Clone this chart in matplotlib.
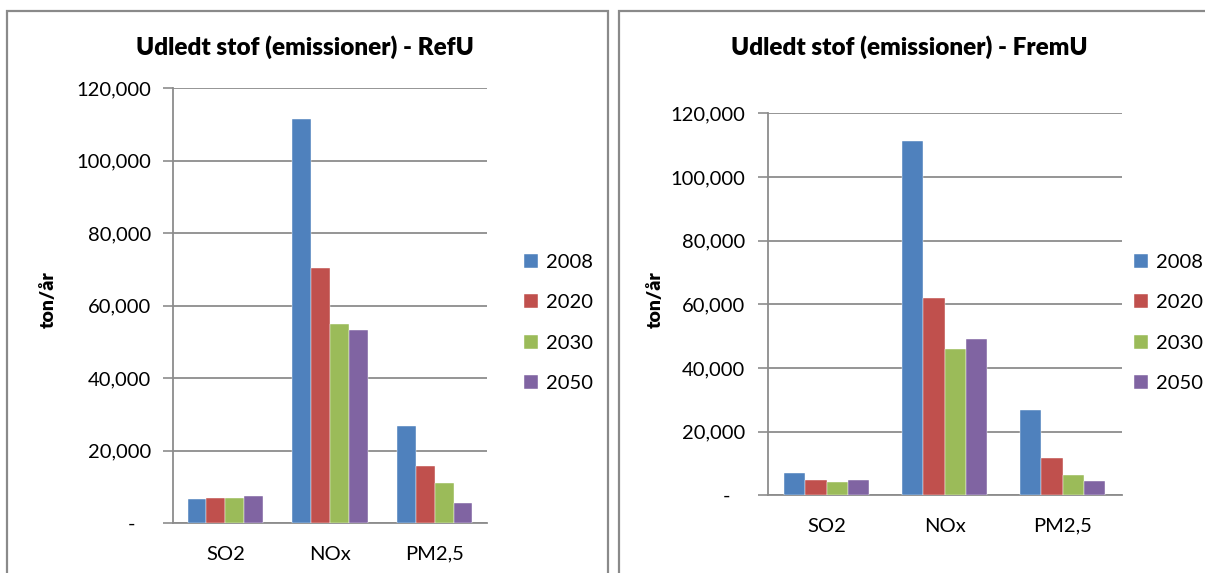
import numpy as np
import matplotlib.pyplot as plt
from matplotlib.patches import Rectangle

categories = ["SO2", "NOx", "PM2,5"]
years = ["2008", "2020", "2030", "2050"]
colors = ["#4F81BD", "#C0504D", "#9BBB59", "#8064A2"]

# ton/år
refu = {
    "2008": [6600, 111400, 26800],
    "2020": [7100, 70300, 15800],
    "2030": [7100, 55000, 11100],
    "2050": [7500, 53200, 5600],
}
fremu = {
    "2008": [6900, 111300, 26900],
    "2020": [4800, 62000, 11700],
    "2030": [4300, 45900, 6400],
    "2050": [4800, 49000, 4400],
}

plt.rcParams["font.family"] = ["Lato", "DejaVu Sans"]
grid_c = "#8C8C8C"

fig = plt.figure(figsize=(12.05, 5.73), dpi=100)

# panel frames (pixel coords -> figure fraction)
W, H = 1205, 573
for x0, x1 in [(7, 608), (619, 1215)]:
    fig.patches.append(Rectangle((x0 / W, -0.05), (x1 - x0) / W, (H - 11) / H + 0.05,
                                 transform=fig.transFigure, fill=False,
                                 edgecolor="#8A8A8A", linewidth=1.6))


def fmt(v):
    return "-   " if v == 0 else f"{int(v):,}"


def draw(rect, data, title, title_x, ylab_x, leg_x):
    ax = fig.add_axes(rect)
    x = np.arange(len(categories))
    w = 0.18
    for i, yr in enumerate(years):
        ax.bar(x + (i - 1.5) * w, data[yr], w, color=colors[i],
               edgecolor="white", linewidth=0.3, label=yr, zorder=3)
    ax.set_xlim(-0.5, 2.5)
    ax.set_ylim(0, 120000)
    ticks = np.arange(0, 120001, 20000)
    ax.set_yticks(ticks)
    ax.set_yticklabels([fmt(t) for t in ticks], fontsize=14.5)
    ax.set_xticks(x)
    ax.set_xticklabels(categories, fontsize=14.5)
    ax.tick_params(axis="y", length=7, width=1.2, color=grid_c, pad=9)
    ax.tick_params(axis="x", length=0, pad=16)
    ax.yaxis.grid(True, color=grid_c, linewidth=1.3, zorder=0)
    for s in ["top", "right"]:
        ax.spines[s].set_visible(False)
    for s in ["left", "bottom"]:
        ax.spines[s].set_color(grid_c)
        ax.spines[s].set_linewidth(1.3)
    fig.text(title_x / W, 1 - 47 / H, title, ha="center", va="center",
             fontsize=17.5, fontweight="heavy")
    fig.text(ylab_x / W, 1 - 300 / H, "ton/år", ha="center", va="center",
             rotation=90, fontsize=14, fontweight="heavy")
    ax.legend(loc="center left", bbox_to_anchor=(leg_x, 1 - 323 / H), frameon=False,
              fontsize=14.5, handlelength=0.7, handleheight=0.7,
              handletextpad=0.4, labelspacing=1.15,
              bbox_transform=fig.transFigure)
    return ax


draw([173 / W, 1 - 523.3 / H, 314 / W, 435 / H], refu,
     "Udledt stof (emissioner) - RefU", 305, 48, 506 / W)
draw([767.7 / W, 1 - 495.3 / H, 354 / W, 382 / H], fremu,
     "Udledt stof (emissioner) - FremU", 909, 655, 1116 / W)

fig.savefig("out.png", dpi=100)
